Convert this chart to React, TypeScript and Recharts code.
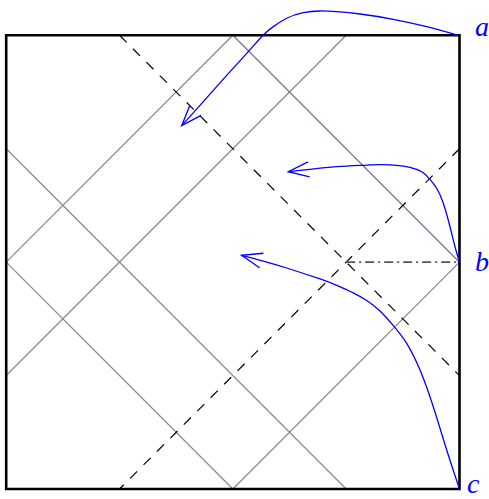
import React from 'react';
import { ComposedChart, Line, XAxis, YAxis, ReferenceDot } from 'recharts';

// ---- data (unit-square coordinates: x 0..1 left→right, y 0..1 bottom→top) ----
const frame = [
  { x: 0, y: 0 }, { x: 1, y: 0 }, { x: 1, y: 1 }, { x: 0, y: 1 }, { x: 0, y: 0 },
];

const grayLines = [
  [{ x: 0, y: 0.5 }, { x: 0.5, y: 1 }],
  [{ x: 0, y: 0.25 }, { x: 0.75, y: 1 }],
  [{ x: 0, y: 0.75 }, { x: 0.75, y: 0 }],
  [{ x: 0, y: 0.5 }, { x: 0.5, y: 0 }],
  [{ x: 1, y: 0.5 }, { x: 0.5, y: 0 }],
];

const tintedLine = [{ x: 0.5, y: 1 }, { x: 1, y: 0.5 }];

const dashedLines = [
  [{ x: 0.25, y: 1 }, { x: 1, y: 0.25 }],
  [{ x: 1, y: 0.75 }, { x: 0.25, y: 0 }],
];

const dashDotLine = [{ x: 0.75, y: 0.5 }, { x: 1, y: 0.5 }];

const curveA = [
  { x: 0.997, y: 1.0 },
  { x: 0.9276, y: 1.019 },
  { x: 0.854, y: 1.0353 },
  { x: 0.7805, y: 1.0469 },
  { x: 0.7291, y: 1.052 },
  { x: 0.6923, y: 1.0536 },
  { x: 0.6554, y: 1.0498 },
  { x: 0.6188, y: 1.0375 },
  { x: 0.5892, y: 1.019 },
  { x: 0.5672, y: 1.0007 },
  { x: 0.5306, y: 0.9603 },
  { x: 0.4864, y: 0.9118 },
  { x: 0.4364, y: 0.8556 },
  { x: 0.3872, y: 0.8008 },
];

const curveB = [
  { x: 1.0, y: 0.5 },
  { x: 0.9901, y: 0.534 },
  { x: 0.979, y: 0.5781 },
  { x: 0.9643, y: 0.6297 },
  { x: 0.9497, y: 0.6628 },
  { x: 0.9349, y: 0.6826 },
  { x: 0.9166, y: 0.6994 },
  { x: 0.8908, y: 0.709 },
  { x: 0.8615, y: 0.7135 },
  { x: 0.8246, y: 0.7148 },
  { x: 0.7878, y: 0.7135 },
  { x: 0.7291, y: 0.7104 },
  { x: 0.6702, y: 0.7047 },
  { x: 0.6223, y: 0.6994 },
];

const curveC = [
  { x: 1.0, y: 0.0 },
  { x: 0.9718, y: 0.086 },
  { x: 0.9422, y: 0.1814 },
  { x: 0.9129, y: 0.2623 },
  { x: 0.8835, y: 0.3211 },
  { x: 0.854, y: 0.3601 },
  { x: 0.8246, y: 0.3923 },
  { x: 0.7953, y: 0.4153 },
  { x: 0.7657, y: 0.4324 },
  { x: 0.7291, y: 0.449 },
  { x: 0.6923, y: 0.4629 },
  { x: 0.6188, y: 0.4871 },
  { x: 0.5672, y: 0.5025 },
  { x: 0.5191, y: 0.5151 },
];

const labels = [
  { x: 1, y: 1, text: 'a' },
  { x: 1, y: 0.5, text: 'b' },
  { x: 1, y: 0, text: 'c' },
];

// ---- styles ----
const X_DOMAIN: [number, number] = [-0.01368, 1.0651];
const Y_DOMAIN: [number, number] = [-0.02204, 1.0778];
const BLUE = '#0000ff';
const GRAY = '#8c8c8c';
const TINT = '#7c7c9e';
const LABEL_OFFSETS: Record<string, { dx: number; dy: number }> = {
  a: { dx: 15.5, dy: 1 },
  b: { dx: 15.5, dy: 9 },
  c: { dx: 7.5, dy: 4 },
};
const ARROW_LEN = 22;
const ARROW_HALF_ANGLE = 20;

const arrowDot = (props: any) => {
  const { cx, cy, index, points } = props;
  if (!points || index !== points.length - 1 || cx == null || cy == null) {
    return <g key={`d-${index}`} />;
  }
  const p = points[index - 1];
  const dx = p.x - cx;
  const dy = p.y - cy;
  const len = Math.hypot(dx, dy) || 1;
  const ux = dx / len;
  const uy = dy / len;
  const a = (ARROW_HALF_ANGLE * Math.PI) / 180;
  const rot = (ang: number) => [
    ux * Math.cos(ang) - uy * Math.sin(ang),
    ux * Math.sin(ang) + uy * Math.cos(ang),
  ];
  const [x1, y1] = rot(a);
  const [x2, y2] = rot(-a);
  return (
    <path
      key={`d-${index}`}
      d={`M${cx + ARROW_LEN * x1},${cy + ARROW_LEN * y1} L${cx},${cy} L${cx + ARROW_LEN * x2},${cy + ARROW_LEN * y2}`}
      stroke={BLUE}
      strokeWidth={1.3}
      fill="none"
      strokeLinejoin="miter"
    />
  );
};

const labelShape = (text: string) => (props: any) => {
  const { cx, cy } = props;
  const off = LABEL_OFFSETS[text];
  return (
    <text
      x={cx + off.dx}
      y={cy + off.dy}
      fill={BLUE}
      fontFamily="'Liberation Serif', 'Times New Roman', serif"
      fontStyle="italic"
      fontSize={28}
    >
      {text}
    </text>
  );
};

export default function App() {
  return (
    <div style={{ position: 'absolute', left: 0, top: 0, width: 489, height: 499, background: '#fff' }}>
      <ComposedChart width={489} height={499} margin={{ top: 0, right: 0, bottom: 0, left: 0 }}>
        <XAxis type="number" dataKey="x" domain={X_DOMAIN} allowDataOverflow hide />
        <YAxis type="number" dataKey="y" domain={Y_DOMAIN} allowDataOverflow hide />
        {grayLines.map((d, i) => (
          <Line key={`g${i}`} data={d} dataKey="y" type="linear" stroke={GRAY} strokeWidth={1.3}
            dot={false} activeDot={false} isAnimationActive={false} />
        ))}
        <Line data={tintedLine} dataKey="y" type="linear" stroke={TINT} strokeWidth={1.4}
          dot={false} activeDot={false} isAnimationActive={false} />
        {dashedLines.map((d, i) => (
          <Line key={`d${i}`} data={d} dataKey="y" type="linear" stroke="#000" strokeWidth={1.2}
            strokeDasharray="10 9" dot={false} activeDot={false} isAnimationActive={false} />
        ))}
        <Line data={dashDotLine} dataKey="y" type="linear" stroke="#555" strokeWidth={1.6}
          strokeDasharray="9 4 2 4" dot={false} activeDot={false} isAnimationActive={false} />
        <Line data={frame} dataKey="y" type="linear" stroke="#000" strokeWidth={2.6}
          strokeLinejoin="miter" strokeLinecap="square" dot={false} activeDot={false} isAnimationActive={false} />
        {[curveA, curveB, curveC].map((d, i) => (
          <Line key={`c${i}`} data={d} dataKey="y" type="natural" stroke={BLUE} strokeWidth={1.3}
            dot={arrowDot} activeDot={false} isAnimationActive={false} />
        ))}
        {labels.map((l) => (
          <ReferenceDot key={l.text} x={l.x} y={l.y} r={0} ifOverflow="visible" shape={labelShape(l.text)} />
        ))}
      </ComposedChart>
    </div>
  );
}
